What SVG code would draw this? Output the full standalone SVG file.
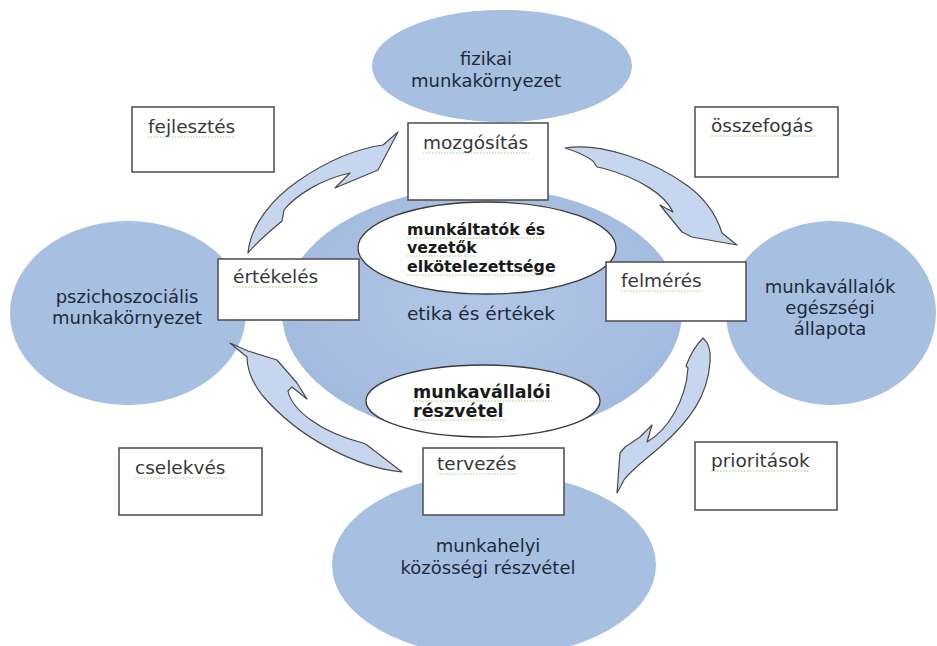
<svg xmlns="http://www.w3.org/2000/svg" width="937" height="646" viewBox="0 0 937 646">
<defs>
<radialGradient id="cg" cx="50%" cy="45%" r="55%">
<stop offset="0" stop-color="#b2c7e6"/>
<stop offset="1" stop-color="#a2bade"/>
</radialGradient>
</defs>
<style>
.ell{fill:#a7bfe0}
.lbl{font-family:"DejaVu Sans",Verdana,sans-serif;font-size:18px;fill:#1e2a3c;text-anchor:middle}
.box{fill:#fff;stroke:#555;stroke-width:1.6}
.bt{font-family:"DejaVu Sans",Verdana,sans-serif;font-size:18.5px;fill:#383838}
.wel{fill:#fff;stroke:#3a3a3a;stroke-width:1.3}
.bold{font-family:"DejaVu Sans",Verdana,sans-serif;font-weight:bold;fill:#1a1a1a}
.arr{fill:#c6d6ef;stroke:#4a4a4a;stroke-width:1.2;stroke-linejoin:round}
.sp{stroke:#7cbf5a;stroke-width:1.2;stroke-dasharray:1.5 1.5;opacity:0.7}
</style>
<rect width="937" height="646" fill="#fff"/>

<g id="fizikai">
<ellipse class="ell" cx="502" cy="66" rx="130" ry="56"/>
<text class="lbl" x="486" y="65">fizikai</text>
<text class="lbl" x="486" y="87">munkakörnyezet</text>
</g>
<g id="pszicho">
<ellipse class="ell" cx="128" cy="313" rx="118" ry="92"/>
<text class="lbl" x="127" y="303">pszichoszociális</text>
<text class="lbl" x="127" y="324">munkakörnyezet</text>
</g>
<g id="egeszseg">
<ellipse class="ell" cx="831" cy="313" rx="105" ry="92"/>
<text class="lbl" x="830" y="293">munkavállalók</text>
<text class="lbl" x="830" y="314">egészségi</text>
<text class="lbl" x="830" y="335">állapota</text>
</g>
<g id="kozosseg">
<ellipse class="ell" cx="494" cy="565" rx="162" ry="92"/>
<text class="lbl" x="488" y="552">munkahelyi</text>
<text class="lbl" x="488" y="574">közösségi részvétel</text>
</g>

<g id="etika">
<ellipse cx="482" cy="312" rx="200" ry="125" fill="url(#cg)"/>
<text class="lbl" x="481" y="320" style="font-size:18.5px">etika és értékek</text>
</g>
<g id="elkotelezettseg">
<ellipse class="wel" cx="487" cy="248" rx="129" ry="46"/>
<text class="bold" x="407" y="235" font-size="15.8">munkáltatók és</text>
<text class="bold" x="407" y="253" font-size="15.8">vezetők</text>
<text class="bold" x="407" y="272" font-size="15.8">elkötelezettsége</text>
<line class="sp" x1="407" y1="238" x2="545" y2="238"/>
<line class="sp" x1="407" y1="256" x2="475" y2="256"/>
<line class="sp" x1="407" y1="275" x2="555" y2="275"/>
</g>
<g id="reszvetel">
<ellipse class="wel" cx="483" cy="401" rx="117" ry="36"/>
<text class="bold" x="413" y="398" font-size="17.5">munkavállalói</text>
<text class="bold" x="413" y="417" font-size="17.5">részvétel</text>
<line class="sp" x1="413" y1="401" x2="552" y2="401"/>
<line class="sp" x1="413" y1="420" x2="505" y2="420"/>
</g>

<g id="connectors">
<path class="arr" d="M248,253 C250,226 272,199 298,181 C324,163 355,149 383,145 L398,132 L378,170 L335,188 L350,173 C322,179 296,195 284,210 L282,221 C270,231 256,243 248,253 Z"/>
<path class="arr" d="M565,148 C600,142 652,160 688,186 C708,201 717,217 722,233 L737,245 L692,237 L682,232 L660,205 L673,212 C665,195 640,178 602,168 L597,167 L593,161 C585,155 575,151 565,148 Z"/>
<path class="arr" d="M703,338 C709,343 711,352 710,362 C708,395 690,421 660,447 C645,460 630,471 624,480 L617,493 L620,453 L625,447 L640,437 L652,425 L647,442 C668,430 686,400 688,368 L686,366 C690,355 696,345 703,338 Z"/>
<path class="arr" d="M230,343 L248,351 L277,360 L297,383 L307,399 L292,387 L288,391 C292,410 320,432 363,443 L367,445 L402,472 C360,468 300,440 262,395 C252,382 247,368 247,357 Z"/>
</g>

<g id="mozgositas">
<rect class="box" x="408" y="123" width="140" height="77"/>
<text class="bt" x="423" y="149">mozgósítás</text>
<line class="sp" x1="423" y1="153" x2="529" y2="153"/>
</g>
<g id="fejlesztes">
<rect class="box" x="132" y="107" width="142" height="65"/>
<text class="bt" x="148" y="133">fejlesztés</text>
<line class="sp" x1="148" y1="137" x2="234" y2="137"/>
</g>
<g id="osszefogas">
<rect class="box" x="695" y="107" width="143" height="70"/>
<text class="bt" x="711" y="132">összefogás</text>
<line class="sp" x1="711" y1="136" x2="816" y2="136"/>
</g>
<g id="ertekeles">
<rect class="box" x="218" y="259" width="141" height="61"/>
<text class="bt" x="233" y="283">értékelés</text>
<line class="sp" x1="233" y1="287" x2="317" y2="287"/>
</g>
<g id="felmeres">
<rect class="box" x="606" y="262" width="140" height="59"/>
<text class="bt" x="621" y="287">felmérés</text>
<line class="sp" x1="621" y1="291" x2="703" y2="291"/>
</g>
<g id="cselekves">
<rect class="box" x="119" y="448" width="143" height="67"/>
<text class="bt" x="135" y="474">cselekvés</text>
<line class="sp" x1="135" y1="478" x2="228" y2="478"/>
</g>
<g id="tervezes">
<rect class="box" x="423" y="448" width="141" height="67"/>
<text class="bt" x="437" y="470">tervezés</text>
<line class="sp" x1="437" y1="474" x2="517" y2="474"/>
</g>
<g id="prioritasok">
<rect class="box" x="695" y="442" width="142" height="68"/>
<text class="bt" x="711" y="467">prioritások</text>
<line class="sp" x1="711" y1="471" x2="809" y2="471"/>
</g>
</svg>
